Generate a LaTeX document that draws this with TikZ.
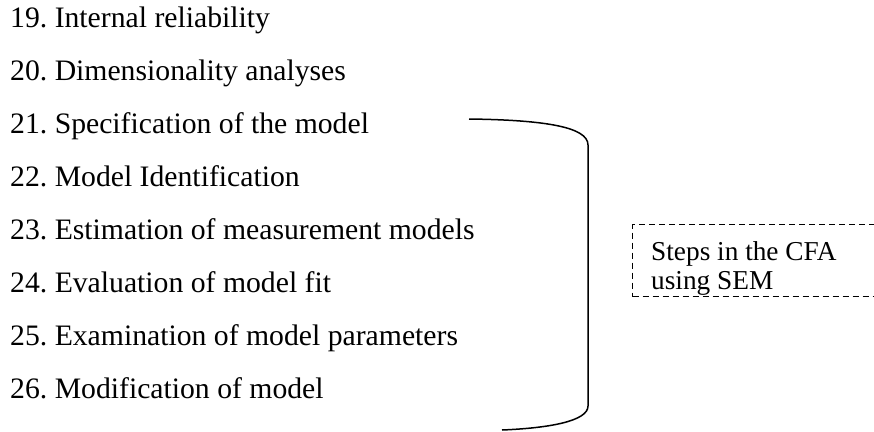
\documentclass[tikz,border=0pt]{standalone}
\usepackage{fontspec}
\setmainfont{Liberation Serif}
\definecolor{ink}{HTML}{000000}

\begin{document}
\frenchspacing
\begin{tikzpicture}[x=1pt, y=1pt,
  stepitem/.style={anchor=base west, inner sep=0, color=ink,
    font=\fontsize{29.7}{53}\selectfont},
  bracket/.style={draw=ink, line width=1.5pt},
  cfabox/.style={draw=ink, line width=1.2pt, dash pattern=on 6pt off 4pt,
    inner sep=0, anchor=north west},
  cfatext/.style={anchor=base west, inner sep=0, color=ink,
    font=\fontsize{27.3}{29.5}\selectfont}]

\def\lx{10}    % left edge of the list
\def\by{27}    % baseline of the first item
\def\rh{53}    % row pitch

\useasboundingbox (0,0) rectangle (874,-431);
\clip (0,0) rectangle (874,-431);

% ---- list of steps
\foreach \r/\name in {%
  0/{19. Internal reliability},
  1/{20. Dimensionality analyses},
  2/{21. Specification of the model},
  3/{22. Model Identification},
  4/{23. Estimation of measurement models},
  5/{24. Evaluation of model fit},
  6/{25. Examination of model parameters},
  7/{26. Modification of model}%
}{
  \pgfmathsetmacro{\ry}{-\by-\r*\rh}
  \node[stepitem] (item\r) at (\lx,\ry) {\name};
}

% ---- bracket round 21 to 26
\coordinate (brtop) at (469,-119);
\coordinate (brne)  at (588,-145);
\coordinate (brse)  at (588,-406);
\coordinate (brbot) at (502,-430);
\draw[bracket] (brtop) .. controls (545,-120) and (588,-127) .. (brne)
  -- (brse) .. controls (588,-421) and (550,-428) .. (brbot);

% ---- dashed note
\node[cfabox, minimum width=300pt, minimum height=72pt] (cfa) at (632,-224) {};
\node[cfatext] (cfa1) at (651,-260) {Steps in the CFA};
\node[cfatext] (cfa2) at (651,-289) {using SEM};

\end{tikzpicture}
\end{document}
